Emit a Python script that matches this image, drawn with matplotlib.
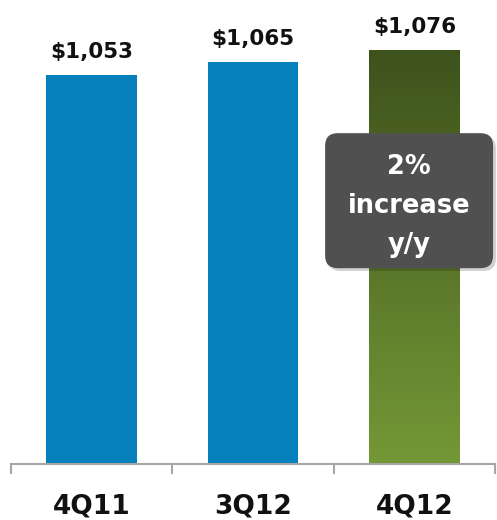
import matplotlib.pyplot as plt
import numpy as np
from matplotlib.patches import FancyBboxPatch
from matplotlib.colors import LinearSegmentedColormap

# chart data
quarters = ["4Q11", "3Q12", "4Q12"]
revenue = [1053, 1065, 1076]
labels = ["$1,053", "$1,065", "$1,076"]

blue = "#0580BC"
green_top = "#3E521C"
green_bottom = "#749836"

fig = plt.figure(figsize=(4.97, 5.2), dpi=100)
ax = fig.add_axes([11 / 497, 56 / 520, 484 / 497, 464 / 520])

x = np.arange(len(quarters))
bars = ax.bar(x, revenue, width=0.56, color=[blue, blue, "none"], zorder=2)

# gradient fill for the latest quarter
last = bars[2]
cmap = LinearSegmentedColormap.from_list("g", [green_bottom, green_top])
grad = np.linspace(0, 1, 256).reshape(-1, 1)
img = ax.imshow(grad, cmap=cmap, aspect="auto", origin="lower", zorder=2,
                extent=[last.get_x(), last.get_x() + last.get_width(),
                        695, revenue[2]])
img.set_clip_path(last)
ax.set_xlim(-0.5, 2.5)
ax.set_ylim(695, 1122)

for xi, v, lab in zip(x, revenue, labels):
    ax.annotate(lab, (xi, v), xytext=(0, 12), textcoords="offset points",
                ha="center", va="baseline", fontsize=15.5, fontweight="bold",
                color="#111111")

# axis line and ticks
for s in ["top", "right", "left"]:
    ax.spines[s].set_visible(False)
ax.spines["bottom"].set_color("#A6A6A6")
ax.spines["bottom"].set_linewidth(1.5)
ax.set_yticks([])
ax.set_xticks([-0.5, 0.5, 1.5, 2.5])
ax.set_xticklabels([])
ax.tick_params(axis="x", length=7, width=1.5, color="#A6A6A6")
ax.set_xticks(x, minor=True)
ax.set_xticklabels(quarters, minor=True, fontsize=19, fontweight="bold",
                   color="#111111")
ax.tick_params(axis="x", which="minor", length=0, pad=21)

# callout box
shadow = FancyBboxPatch((0.655, 0.416), 0.347, 0.291, transform=ax.transAxes,
                        boxstyle="round,pad=0,rounding_size=0.026",
                        mutation_aspect=1.045, fc="#000000", alpha=0.18,
                        ec="none", clip_on=False, zorder=3)
ax.add_patch(shadow)
box = FancyBboxPatch((0.649, 0.422), 0.347, 0.291, transform=ax.transAxes,
                     boxstyle="round,pad=0,rounding_size=0.026",
                     mutation_aspect=1.045, fc="#505050", ec="none",
                     clip_on=False, zorder=4)
ax.add_patch(box)
ax.text(0.8225, 0.556, "2%\nincrease\ny/y", transform=ax.transAxes,
        ha="center", va="center", fontsize=18.5, fontweight="bold",
        color="white", linespacing=1.65, zorder=5)

fig.savefig("out.png", dpi=100)
